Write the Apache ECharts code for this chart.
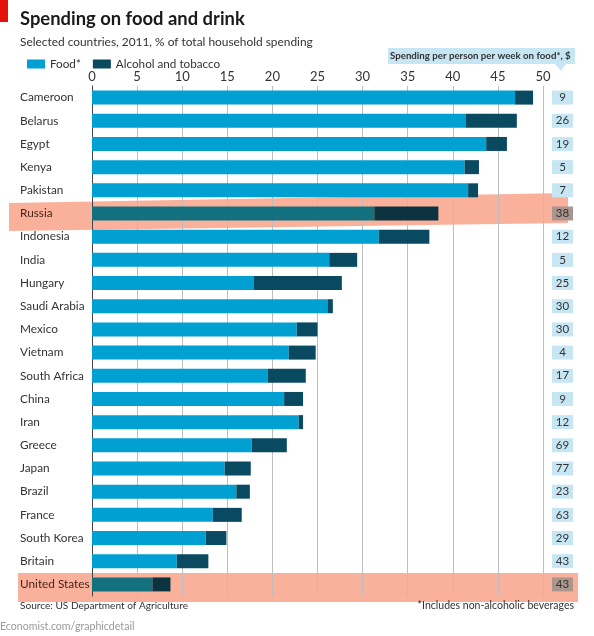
<!DOCTYPE html>
<html>
<head>
<meta charset="utf-8">
<script src="https://cdn.jsdelivr.net/npm/echarts@6/dist/echarts.min.js"></script>
<style>
html,body{margin:0;padding:0;background:#fff;}
#c{width:594px;height:636px;}
</style>
</head>
<body>
<div id="c"></div>
<script>
const countries = ["Cameroon","Belarus","Egypt","Kenya","Pakistan","Russia","Indonesia","India","Hungary","Saudi Arabia","Mexico","Vietnam","South Africa","China","Iran","Greece","Japan","Brazil","France","South Korea","Britain","United States"];
const food = [46.9,41.4,43.7,41.3,41.7,31.3,31.8,26.3,17.9,26.1,22.7,21.8,19.5,21.3,22.9,17.7,14.7,16.0,13.4,12.6,9.4,6.7];
const alcohol = [2.0,5.7,2.3,1.6,1.1,7.1,5.6,3.1,9.8,0.6,2.3,3.0,4.2,2.1,0.5,3.9,2.9,1.5,3.2,2.3,3.5,2.0];
const perWeek = [9,26,19,5,7,38,12,5,25,30,30,4,17,9,12,69,77,23,63,29,43,43];
const highlighted = ["Russia","United States"];

const FONT = "Lato, 'Liberation Sans', sans-serif";
const FOOD_C = "#00a0d3", ALC_C = "#0a4a61";
const FOOD_H = "#13707f", ALC_H = "#0b3440";

// fit font sizes to the widths seen in the reference (slightly enlarged for height)
const cv = document.createElement('canvas').getContext('2d');
function fit(text, weight, target, k){
  cv.font = weight + ' 100px ' + FONT;
  const w = cv.measureText(text).width;
  return Math.round(100 * target / w * (k || 1.05) * 10) / 10;
}
const T = {
  title:'Spending on food and drink',
  sub:'Selected countries, 2011, % of total household spending',
  head:'Spending per person per week on food*, $',
  src:'Source: US Department of Agriculture',
  note:'*Includes non-alcoholic beverages',
  web:'Economist.com/graphicdetail'
};
const sTitle = fit(T.title,'bold',214);
const sSub = fit(T.sub,'normal',280);
const sHead = fit(T.head,'bold',178,1.02);
const sSrc = fit(T.src,'normal',160);
const sNote = fit(T.note,'normal',149);
const sWeb = fit(T.web,'normal',128);
const sLeg = fit('Alcohol and tobacco','normal',99);
const sCountry = fit('South Africa','normal',61);

const chart = echarts.init(document.getElementById('c'), null, {renderer:'canvas'});
const isH = c => highlighted.indexOf(c) >= 0;

const option = {
  animation:false,
  textStyle:{fontFamily:FONT},
  legend:{
    left:22, top:53, itemWidth:18, itemHeight:9, itemGap:12,
    icon:'rect',
    textStyle:{fontFamily:FONT, fontSize:sLeg, color:'#333'},
    data:['Food*','Alcohol and tobacco']
  },
  grid:{left:92, right:51, top:86, bottom:40, containLabel:false},
  xAxis:{
    type:'value', position:'top', min:0, max:50, interval:5,
    axisLine:{show:false}, axisTick:{show:false},
    axisLabel:{fontFamily:FONT, fontSize:13, color:'#333', margin:3},
    splitLine:{show:true, lineStyle:{color:'#bdbdbd', width:1}}
  },
  yAxis:[{
    type:'category', inverse:true, data:countries,
    axisTick:{show:false},
    axisLine:{show:true, lineStyle:{color:'#444', width:1}},
    axisLabel:{
      align:'left', margin:72, fontFamily:FONT, fontSize:sCountry, color:'#333',
      formatter: v => isH(v) ? '{h|'+v+'}' : v,
      rich:{h:{color:'#4a2418', fontFamily:FONT, fontSize:sCountry}}
    }
  },{
    type:'category', inverse:true, position:'right', data:countries,
    axisTick:{show:false}, axisLine:{show:false},
    axisLabel:{
      margin:9,
      formatter:(v,i) => (isH(v) ? '{g|' : '{b|') + perWeek[i] + '}',
      rich:{
        b:{width:21, height:14, lineHeight:14, align:'center', backgroundColor:'#c6e6f4', color:'#333', fontFamily:FONT, fontSize:11.5},
        g:{width:21, height:14, lineHeight:14, align:'center', backgroundColor:'#ab958c', color:'#333', fontFamily:FONT, fontSize:11.5}
      }
    }
  }],
  series:[{
    name:'Food*', type:'bar', stack:'t', barWidth:14,
    itemStyle:{color:FOOD_C},
    data: food.map((v,i)=>({value:v, itemStyle:{color: isH(countries[i])?FOOD_H:FOOD_C}}))
  },{
    name:'Alcohol and tobacco', type:'bar', stack:'t', barWidth:14,
    itemStyle:{color:ALC_C},
    data: alcohol.map((v,i)=>({value:v, itemStyle:{color: isH(countries[i])?ALC_H:ALC_C}}))
  }],
  graphic:[
    {type:'rect', z:100, shape:{x:0,y:0,width:8,height:22}, style:{fill:'#e3120b'}},
    {type:'text', z:100, x:20, y:19, style:{text:T.title, fontFamily:FONT, fontWeight:'bold', fontSize:sTitle, fill:'#1a1a1a', verticalAlign:'middle'}},
    {type:'text', z:100, x:20, y:42, style:{text:T.sub, fontFamily:FONT, fontSize:sSub, fill:'#333', verticalAlign:'middle'}},
    {type:'rect', z:100, shape:{x:388,y:48,width:187,height:16}, style:{fill:'#c6e6f4'}},
    {type:'polygon', z:100, shape:{points:[[555,64],[566,64],[561,71]]}, style:{fill:'#c6e6f4'}},
    {type:'text', z:101, x:390, y:56, style:{text:T.head, fontFamily:FONT, fontWeight:'bold', fontSize:sHead, fill:'#333', verticalAlign:'middle'}},
    {type:'polygon', z:-5, shape:{points:[[9,203],[568,193],[568,223],[9,231]]}, style:{fill:'rgba(247,125,90,0.6)'}},
    {type:'rect', z:-5, shape:{x:18,y:573,width:560,height:29}, style:{fill:'rgba(247,125,90,0.6)'}},
    {type:'text', z:100, x:20, y:606, style:{text:T.src, fontFamily:FONT, fontSize:sSrc, fill:'#333', verticalAlign:'middle'}},
    {type:'text', z:100, x:574, y:606, style:{text:T.note, fontFamily:FONT, fontSize:sNote, fill:'#333', align:'right', verticalAlign:'middle'}},
    {type:'text', z:100, x:0, y:627, style:{text:T.web, fontFamily:FONT, fontSize:sWeb, fill:'#9a9a9a', verticalAlign:'middle'}}
  ]
};
chart.setOption(option);
</script>
</body>
</html>
